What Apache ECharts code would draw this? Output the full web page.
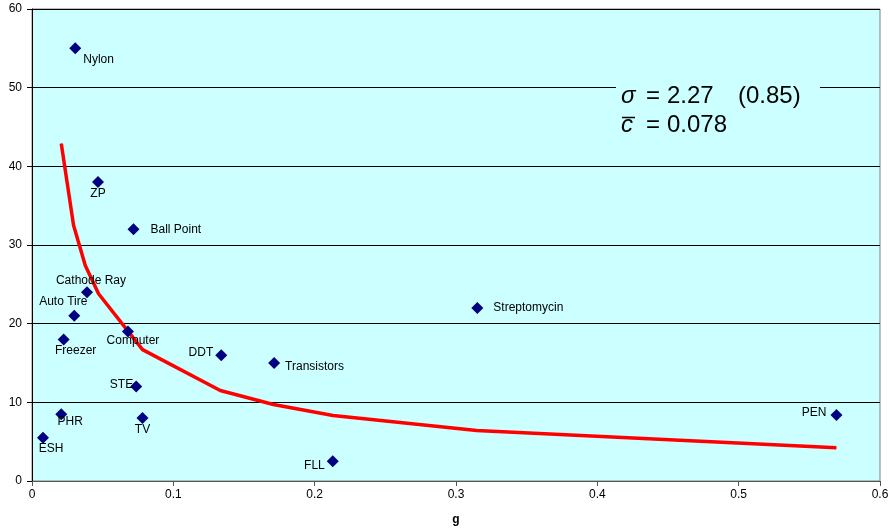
<!DOCTYPE html>
<html>
<head>
<meta charset="utf-8">
<script src="https://cdn.jsdelivr.net/npm/echarts@6/dist/echarts.min.js"></script>
<style>html,body{margin:0;padding:0;background:#fff}#c{width:891px;height:529px}</style>
</head>
<body>
<div id="c"></div>
<script>
// ---- data ----
const names = ['Nylon','ZP','Ball Point','Cathode Ray','Auto Tire','Freezer','Computer','DDT','Transistors','STE','TV','PHR','ESH','FLL','Streptomycin','PEN'];
const gValues = [0.0306,0.0467,0.0718,0.0389,0.0299,0.0224,0.0679,0.1339,0.1713,0.0737,0.0782,0.0207,0.0078,0.2128,0.3151,0.5692];
const yValues = [55,38,32,24,21,18,19,16,15,12,8,8.5,5.5,2.5,22,8.4];
const fitG = [0.0207,0.0294,0.0377,0.0471,0.0782,0.1332,0.1708,0.2130,0.3146,0.5692];
const fitY = [42.9,32.5,27.4,23.8,16.7,11.5,9.73,8.33,6.42,4.22];
const xTicks = [0,0.1,0.2,0.3,0.4,0.5,0.6];
const yTicks = [0,10,20,30,40,50,60];

// ---- label styles (align, dx, dy) ----
const labelStyle = {
  'Nylon':['left',8,11],'ZP':['center',0,12],'Ball Point':['left',17,0],
  'Cathode Ray':['center',4,-12],'Auto Tire':['center',-11,-14],'Freezer':['center',12,11],
  'Computer':['center',5,9],'DDT':['right',-8,-2],'Transistors':['left',11,4],
  'STE':['right',-3,-2],'TV':['center',0,12],'PHR':['center',9,8],'ESH':['center',8,11],
  'FLL':['right',-8,4],'Streptomycin':['left',16,0],'PEN':['right',-10,-2]
};

const font = 'Liberation Sans, Arial, sans-serif';
const scatterData = names.map((n,i)=>{
  const s = labelStyle[n];
  return {
    value:[gValues[i],yValues[i]], name:n,
    label:{show:true, formatter:n, position:'inside', align:s[0], verticalAlign:'middle', offset:[s[1],s[2]],
      color:'#000', fontFamily:font, fontSize:12}
  };
});
const fitData = fitG.map((g,i)=>[g,fitY[i]]);

const chart = echarts.init(document.getElementById('c'));
chart.setOption({
  animation:false,
  grid:{left:32,right:11,top:9,bottom:48,show:true,backgroundColor:'#CCFFFF',borderColor:'#808080',borderWidth:1,
    containLabel:false,outerBoundsMode:'none'},
  xAxis:{type:'value',min:xTicks[0],max:xTicks[xTicks.length-1],interval:0.1,
    name:'g',nameLocation:'middle',nameGap:33,
    nameTextStyle:{fontFamily:font,fontSize:12,fontWeight:'bold',color:'#000'},
    axisLine:{show:true,lineStyle:{color:'#555',width:1}},
    axisTick:{show:true,length:5,lineStyle:{color:'#555'}},
    axisLabel:{fontFamily:font,fontSize:12,color:'#000',margin:8},
    splitLine:{show:false}},
  yAxis:{type:'value',min:yTicks[0],max:yTicks[yTicks.length-1],interval:10,
    axisLine:{show:true,lineStyle:{color:'#000',width:1}},
    axisTick:{show:true,length:5,lineStyle:{color:'#000'}},
    axisLabel:{fontFamily:font,fontSize:12,color:'#000',margin:10},
    splitLine:{show:true,lineStyle:{color:'#000',width:1}}},
  graphic:[
    {type:'rect',shape:{x:616,y:84,width:204,height:58},style:{fill:'#CCFFFF'},z:10},
    {type:'text',x:621,y:108,style:{text:'σ',font:'italic 24px '+font,fill:'#000',textVerticalAlign:'bottom'},z:11},
    {type:'text',x:646,y:108,style:{text:'=',font:'24px '+font,fill:'#000',textVerticalAlign:'bottom'},z:11},
    {type:'text',x:667,y:108,style:{text:'2.27',font:'24px '+font,fill:'#000',textVerticalAlign:'bottom'},z:11},
    {type:'text',x:738,y:108,style:{text:'(0.85)',font:'24px '+font,fill:'#000',textVerticalAlign:'bottom'},z:11},
    {type:'text',x:621,y:137,style:{text:'c',font:'italic 24px '+font,fill:'#000',textVerticalAlign:'bottom'},z:11},
    {type:'line',shape:{x1:622,y1:117.5,x2:635,y2:117.5},style:{stroke:'#000',lineWidth:1.5},z:11},
    {type:'text',x:646,y:137,style:{text:'=',font:'24px '+font,fill:'#000',textVerticalAlign:'bottom'},z:11},
    {type:'text',x:667,y:137,style:{text:'0.078',font:'24px '+font,fill:'#000',textVerticalAlign:'bottom'},z:11}
  ],
  series:[
    {type:'line',data:fitData,symbol:'none',smooth:false,lineStyle:{color:'#FF0000',width:3.5},z:2},
    {type:'scatter',data:scatterData,symbol:'diamond',symbolSize:12,itemStyle:{color:'#000080',opacity:1},z:5}
  ]
});
</script>
</body>
</html>
